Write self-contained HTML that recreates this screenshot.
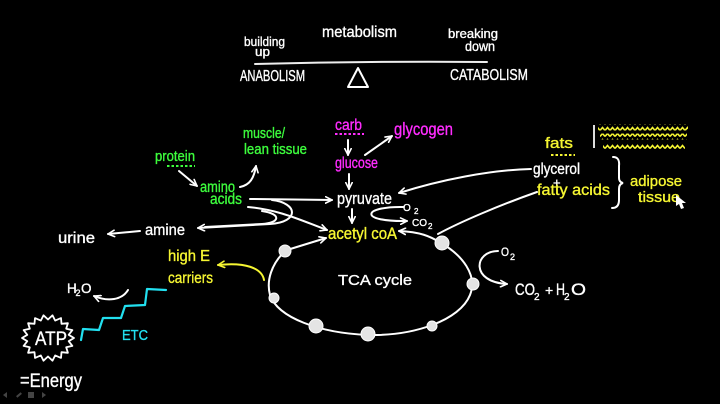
<!DOCTYPE html>
<html><head><meta charset="utf-8"><style>
html,body{margin:0;padding:0;background:#000;}
svg{display:block}
text{font-family:"Liberation Sans",sans-serif;stroke-width:0.35;}
</style></head><body>
<svg width="720" height="404" viewBox="0 0 720 404" xmlns="http://www.w3.org/2000/svg">
<defs>
<marker id="aw" viewBox="0 0 10 10" refX="9" refY="5" markerWidth="8" markerHeight="8" markerUnits="userSpaceOnUse" orient="auto"><path d="M1,1 L9,5 L1,9" fill="none" stroke="#fff" stroke-width="2" stroke-linecap="round" stroke-linejoin="round"/></marker>
<marker id="ay" viewBox="0 0 10 10" refX="9" refY="5" markerWidth="8" markerHeight="8" markerUnits="userSpaceOnUse" orient="auto"><path d="M1,1 L9,5 L1,9" fill="none" stroke="#f6f632" stroke-width="2" stroke-linecap="round" stroke-linejoin="round"/></marker>
<pattern id="wave" width="5" height="6" patternUnits="userSpaceOnUse"><path d="M0 4.5 L2.5 1.5 L5 4.5" fill="none" stroke="#f6f632" stroke-width="1.6"/></pattern>
</defs>
<rect width="720" height="404" fill="#000"/>

<!-- top balance -->
<g fill="#fff" stroke="#fff">
<text x="322" y="37" font-size="16" textLength="75" lengthAdjust="spacingAndGlyphs">metabolism</text>
<text x="244" y="46" font-size="13" textLength="41" lengthAdjust="spacingAndGlyphs">building</text>
<text x="255" y="56" font-size="13" textLength="15" lengthAdjust="spacingAndGlyphs">up</text>
<text x="448" y="38" font-size="13" textLength="50" lengthAdjust="spacingAndGlyphs">breaking</text>
<text x="465" y="51" font-size="14" textLength="30" lengthAdjust="spacingAndGlyphs">down</text>
<text x="240" y="81" font-size="16" textLength="65" lengthAdjust="spacingAndGlyphs">ANABOLISM</text>
<text x="450" y="80" font-size="16" textLength="78" lengthAdjust="spacingAndGlyphs">CATABOLISM</text>
</g>
<path d="M255 64 Q370 61 487 62" fill="none" stroke="#eee" stroke-width="2" stroke-linecap="round"/>
<path d="M358 68 L348 87 L368 87 Z" fill="none" stroke="#fff" stroke-width="2" stroke-linejoin="round"/>

<!-- green -->
<g fill="#3dfc3d" stroke="#3dfc3d">
<text x="155" y="161" font-size="14.5" textLength="40" lengthAdjust="spacingAndGlyphs">protein</text>
<text x="243" y="138" font-size="14.5" textLength="42" lengthAdjust="spacingAndGlyphs">muscle/</text>
<text x="244" y="154" font-size="14.5" textLength="63" lengthAdjust="spacingAndGlyphs">lean tissue</text>
<text x="200" y="192" font-size="15.5" textLength="35" lengthAdjust="spacingAndGlyphs">amino</text>
<text x="210" y="204" font-size="15.5" textLength="32" lengthAdjust="spacingAndGlyphs">acids</text>
</g>
<line x1="167" y1="166" x2="195" y2="166" stroke="#3dfc3d" stroke-width="2" stroke-dasharray="2.5 2"/>

<!-- magenta -->
<g fill="#ff2cff" stroke="#ff2cff">
<text x="335" y="130" font-size="15.5" textLength="27" lengthAdjust="spacingAndGlyphs">carb</text>
<text x="335" y="168" font-size="15.5" textLength="43" lengthAdjust="spacingAndGlyphs">glucose</text>
<text x="394" y="135" font-size="17.5" textLength="59" lengthAdjust="spacingAndGlyphs">glycogen</text>
</g>
<line x1="335" y1="134" x2="364" y2="134" stroke="#ff2cff" stroke-width="2" stroke-dasharray="2.5 2"/>

<!-- white labels -->
<g fill="#fff" stroke="#fff">
<text x="337" y="204" font-size="16.5" textLength="55" lengthAdjust="spacingAndGlyphs">pyruvate</text>
<text x="145" y="235" font-size="15.5" textLength="40" lengthAdjust="spacingAndGlyphs">amine</text>
<text x="58" y="243" font-size="15.5" textLength="37" lengthAdjust="spacingAndGlyphs">urine</text>
<text x="338" y="285" font-size="15" textLength="74" lengthAdjust="spacingAndGlyphs">TCA cycle</text>
<text x="533" y="174" font-size="15.5" textLength="47" lengthAdjust="spacingAndGlyphs">glycerol</text>
<text x="553" y="187" font-size="13">+</text>
<text x="20" y="387" font-size="19" textLength="62" lengthAdjust="spacingAndGlyphs">=Energy</text>
<text x="35" y="345" font-size="19" textLength="32" lengthAdjust="spacingAndGlyphs">ATP</text>
<text x="67" y="293" font-size="13.5">H</text>
<text x="75.5" y="296" font-size="9">2</text>
<text x="81" y="293" font-size="13.5">O</text>
<text x="403" y="211" font-size="10">O</text>
<text x="414" y="214" font-size="8">2</text>
<text x="412" y="226" font-size="10" textLength="15" lengthAdjust="spacingAndGlyphs">CO</text>
<text x="428" y="229" font-size="8">2</text>
<text x="501" y="256" font-size="12" textLength="8" lengthAdjust="spacingAndGlyphs">O</text>
<text x="510" y="260" font-size="9">2</text>
<text x="515" y="295" font-size="17" textLength="20" lengthAdjust="spacingAndGlyphs">CO</text>
<text x="534" y="300" font-size="10">2</text>
<text x="545" y="295" font-size="14">+</text>
<text x="556" y="295" font-size="17" textLength="9" lengthAdjust="spacingAndGlyphs">H</text>
<text x="564" y="300" font-size="10">2</text>
<text x="571" y="295" font-size="17" textLength="15" lengthAdjust="spacingAndGlyphs">O</text>
</g>

<!-- yellow -->
<g fill="#f6f632" stroke="#f6f632">
<text x="328" y="239" font-size="16.5" textLength="69" lengthAdjust="spacingAndGlyphs">acetyl coA</text>
<text x="168" y="261" font-size="16" textLength="42" lengthAdjust="spacingAndGlyphs">high E</text>
<text x="168" y="283" font-size="16" textLength="45" lengthAdjust="spacingAndGlyphs">carriers</text>
<text x="545" y="148" font-size="14.5" textLength="28" lengthAdjust="spacingAndGlyphs">fats</text>
<text x="537" y="195" font-size="15.5" textLength="73" lengthAdjust="spacingAndGlyphs">fatty acids</text>
<text x="630" y="186" font-size="15" textLength="52" lengthAdjust="spacingAndGlyphs">adipose</text>
<text x="638" y="202" font-size="15" textLength="42" lengthAdjust="spacingAndGlyphs">tissue</text>
</g>
<line x1="551" y1="155" x2="575" y2="155" stroke="#f6f632" stroke-width="2" stroke-dasharray="2.5 2"/>
<rect x="598" y="124.5" width="90" height="6" fill="url(#wave)"/>
<rect x="600" y="133.5" width="87" height="6" fill="url(#wave)"/>
<rect x="603" y="143" width="82" height="6" fill="url(#wave)"/>
<line x1="594" y1="125" x2="594" y2="148" stroke="#ddd" stroke-width="2"/>
<path d="M613 157 Q620 157 619 166 L619 178 Q619 182 623 183 Q619 184 619 189 L619 200 Q619 208 612 208" fill="none" stroke="#fff" stroke-width="2" stroke-linecap="round"/>
<path d="M676 195 L676 206 L679 204 L681 209 L684 208 L682 203 L686 203 Z" fill="#fff"/>

<!-- cyan -->
<text x="122" y="340" font-size="15" textLength="26" lengthAdjust="spacingAndGlyphs" fill="#22e0f0" stroke="#22e0f0">ETC</text>
<polyline points="81,340 83,329 99,330 103,318 121,318 125,306 145,305 147,289 166,290" fill="none" stroke="#22e0f0" stroke-width="2.2" stroke-linejoin="round" stroke-linecap="round"/>

<!-- ATP star -->
<polygon points="74,338 68.7,341.2 72.4,345.9 66.2,347.3 67.9,352.8 61.5,352.2 61,357.9 55.2,355.4 52.5,360.7 48,356.5 43.5,360.7 40.8,355.4 35,357.9 34.5,352.2 28.1,352.8 29.8,347.3 23.6,345.9 27.3,341.2 22,338 27.3,334.8 23.6,330.1 29.8,328.7 28.1,323.2 34.5,323.8 35,318.1 40.8,320.6 43.5,315.3 48,319.5 52.5,315.3 55.2,320.6 61,318.1 61.5,323.8 67.9,323.2 66.2,328.7 72.4,330.1 68.7,334.8" fill="none" stroke="#fff" stroke-width="1.8" stroke-linejoin="round"/>

<!-- white arrows -->
<g fill="none" stroke="#fff" stroke-width="2" stroke-linecap="round">
<path d="M179 171 L197 186" marker-end="url(#aw)"/>
<path d="M240 187 C250 185 254 178 256 166" marker-end="url(#aw)"/>
<path d="M250 199 L332 200" marker-end="url(#aw)"/>
<path d="M248 207 C280 210 300 220 327 230" marker-end="url(#aw)"/>
<path d="M272 200 C298 203 300 222 270 224 L198 228" marker-end="url(#aw)"/>
<path d="M262 211 C282 214 280 223 262 224 L205 227"/>
<path d="M140 231 L108 234" marker-end="url(#aw)"/>
<path d="M348 140 L348 155" marker-end="url(#aw)"/>
<path d="M365 155 L392 136" marker-end="url(#aw)"/>
<path d="M349 174 L349 189" marker-end="url(#aw)"/>
<path d="M352 209 L352 223" marker-end="url(#aw)"/>
<path d="M404 207 C362 206 358 222 407 221" marker-end="url(#aw)"/>
<path d="M531 169 C490 170 440 180 399 193" marker-end="url(#aw)"/>
<path d="M537 192 C500 205 460 222 438 234"/>
<path d="M441 243 C430 236 420 232 399 231" marker-end="url(#aw)"/>
<path d="M287 250 L326 238" marker-end="url(#aw)"/>
<path d="M128 290 C122 300 108 302 94 296" marker-end="url(#aw)"/>
<path d="M498 251 C474 251 470 282 507 284" marker-end="url(#aw)"/>
<path d="M284 252 C272 264 266 280 270 295 C278 318 320 333 368 335 C415 336 460 320 470 295 C478 275 462 255 441 243"/>
</g>
<path d="M264 280 C262 268 245 262 218 265" fill="none" stroke="#f6f632" stroke-width="2" stroke-linecap="round" marker-end="url(#ay)"/>

<!-- cycle nodes -->
<g fill="#e4e4e4" stroke="#fff" stroke-width="1">
<circle cx="285" cy="251" r="6"/>
<circle cx="442" cy="243" r="7"/>
<circle cx="473" cy="284" r="6"/>
<circle cx="274" cy="298" r="5"/>
<circle cx="316" cy="326" r="7"/>
<circle cx="368" cy="334" r="7"/>
<circle cx="432" cy="326" r="5"/>
</g>

<!-- toolbar icons -->
<g fill="#444">
<path d="M3 395 L7 392 L7 398 Z"/>
<rect x="16" y="394" width="6" height="2" transform="rotate(-40 19 395)"/>
<rect x="28" y="392" width="6" height="6"/>
<path d="M46 395 L42 392 L42 398 Z"/>
</g>
</svg>
</body></html>
